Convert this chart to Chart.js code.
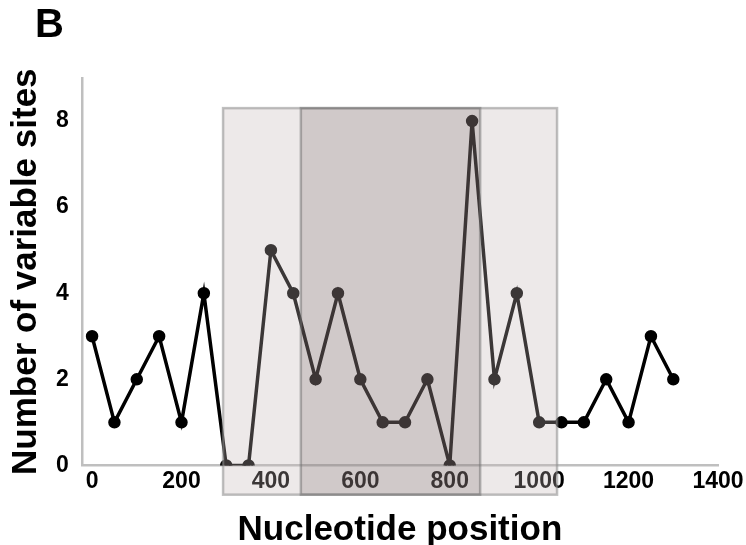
<!DOCTYPE html>
<html>
<head>
<meta charset="utf-8">
<script src="https://cdn.jsdelivr.net/npm/chart.js@4.4.1/dist/chart.umd.min.js"></script>
<style>
  html, body { margin: 0; padding: 0; background: #fff; }
  #wrap { width: 746px; height: 545px; }
</style>
</head>
<body>
<div id="wrap"><canvas id="chart"></canvas></div>
<script>
// window start positions along the sequence
const positions = [0, 50, 100, 150, 200, 250, 300, 350, 400, 450, 500, 550, 600, 650,
                   700, 750, 800, 850, 900, 950, 1000, 1050, 1100, 1150, 1200, 1250, 1300];
const variableSites = [3, 1, 2, 3, 1, 4, 0, 0, 5, 4, 2, 4, 2, 1,
                       1, 2, 0, 8, 2, 4, 1, 1, 1, 2, 1, 3, 2];
const xTicks = [0, 200, 400, 600, 800, 1000, 1200, 1400];
const yTicks = [0, 2, 4, 6, 8];
// shaded regions (nucleotide position, start/end)
const outerRegion = [293, 1040];
const innerRegion = [467, 868];

Chart.defaults.font.family = '"Liberation Sans", Arial, sans-serif';
Chart.defaults.color = '#000';

const regionPlugin = {
    id: 'regions',
    afterDatasetsDraw(chart) {
        const { ctx, scales: { x, y } } = chart;
        const yTop = y.getPixelForValue(8.3);
        const yBot = y.getPixelForValue(-0.68);
        const box = (range, fill, stroke) => {
            const x0 = x.getPixelForValue(range[0]);
            const x1 = x.getPixelForValue(range[1]);
            ctx.save();
            ctx.fillStyle = fill;
            ctx.fillRect(x0, yTop, x1 - x0, yBot - yTop);
            ctx.strokeStyle = stroke;
            ctx.lineWidth = 2.5;
            ctx.strokeRect(x0, yTop, x1 - x0, yBot - yTop);
            ctx.restore();
        };
        box(outerRegion, 'rgba(195, 181, 181, 0.3)', 'rgba(140, 140, 140, 0.55)');
        box(innerRegion, 'rgba(66, 50, 50, 0.17)', 'rgba(110, 110, 110, 0.5)');
    }
};

const letterPlugin = {
    id: 'panelLetter',
    afterDraw(chart) {
        const ctx = chart.ctx;
        ctx.save();
        ctx.font = 'bold 40px "Liberation Sans", Arial, sans-serif';
        ctx.fillStyle = '#000';
        ctx.textBaseline = 'alphabetic';
        ctx.fillText('B', 35, 37);
        ctx.restore();
    }
};

new Chart(document.getElementById('chart'), {
    type: 'line',
    data: {
        datasets: [{
            data: positions.map((p, i) => ({ x: p, y: variableSites[i] })),
            borderColor: '#000',
            borderWidth: 3.5,
            pointRadius: 4.5,
            pointBackgroundColor: '#000',
            pointBorderColor: '#000',
            tension: 0
        }]
    },
    options: {
        responsive: true,
        maintainAspectRatio: false,
        animation: false,
        layout: { padding: { left: 0, top: 78, right: 28, bottom: 0 } },
        plugins: {
            legend: { display: false },
            tooltip: { enabled: false }
        },
        scales: {
            x: {
                type: 'linear',
                min: -23,
                max: 1400,
                afterBuildTicks: s => { s.ticks = xTicks.map(v => ({ value: v })); },
                grid: { display: false, drawTicks: false },
                border: { display: true, color: '#bfbfbf', width: 2.5 },
                ticks: {
                    autoSkip: false,
                    maxRotation: 0,
                    padding: 2,
                    callback: v => String(v),
                    font: { size: 23, weight: 'bold' }
                },
                title: {
                    display: true,
                    text: 'Nucleotide position',
                    font: { size: 35, weight: 'bold', lineHeight: 1 },
                    padding: { top: 16, bottom: -3 }
                }
            },
            y: {
                min: 0,
                max: 9,
                afterBuildTicks: s => { s.ticks = yTicks.map(v => ({ value: v })); },
                grid: { display: false, drawTicks: false },
                border: { display: true, color: '#bfbfbf', width: 2.5 },
                ticks: {
                    padding: 13,
                    font: { size: 23, weight: 'bold' }
                },
                title: {
                    display: true,
                    text: 'Number of variable sites',
                    font: { size: 35, weight: 'bold' },
                    padding: { top: 5, bottom: -4 }
                }
            }
        }
    },
    plugins: [regionPlugin, letterPlugin]
});
</script>
</body>
</html>
